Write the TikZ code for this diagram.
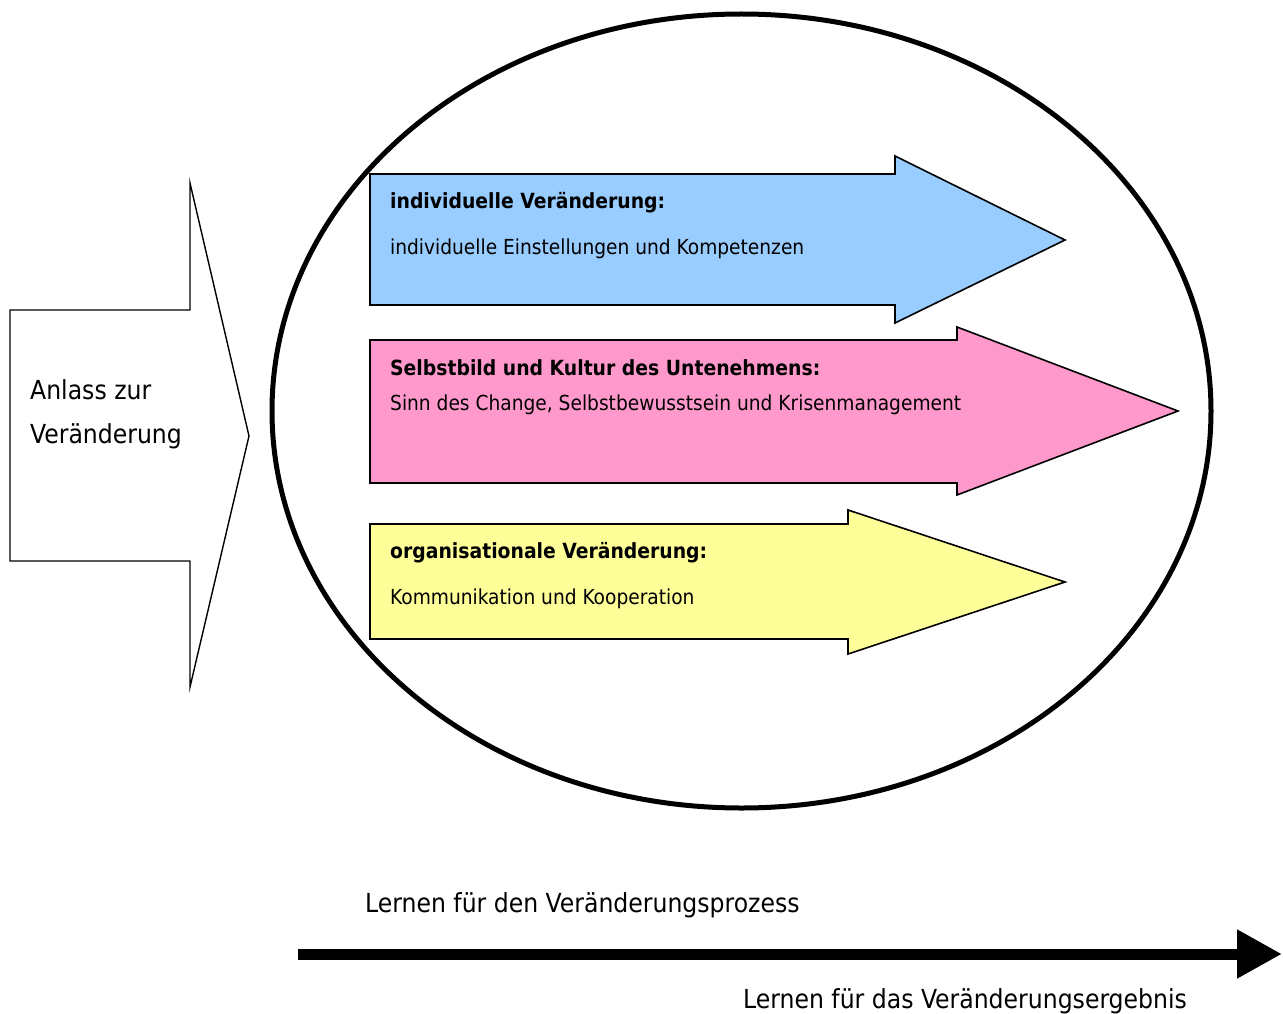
\documentclass[tikz,border=0pt]{standalone}
\usepackage{fontspec}
\setmainfont{DejaVu Sans Condensed}
\usetikzlibrary{arrows.meta}
\definecolor{blueA}{HTML}{99CCFF}
\definecolor{pinkA}{HTML}{FF99CC}
\definecolor{yellowA}{HTML}{FFFF99}
\begin{document}
\begin{tikzpicture}[x=1pt,y=-1pt,
  blockarrow/.style={draw=black,line width=1.6pt,line join=miter},
  headtxt/.style={anchor=base west,inner sep=0pt,font=\fontsize{20.9}{24}\selectfont\bfseries},
  bodytxt/.style={anchor=base west,inner sep=0pt,font=\fontsize{20.7}{24}\selectfont},
  bigtxt/.style={anchor=base west,inner sep=0pt,font=\fontsize{26.2}{30}\selectfont}]
\useasboundingbox[fill=white] (0,0) rectangle (1283,1014);
% ellipse
\draw[line width=5pt] (741.5,411) ellipse [x radius=469.5, y radius=397];
% left arrow
\draw[line width=1.4pt,fill=white,line join=miter]
  (10,310) -- (190,310) -- (190,183) -- (249,436) -- (190,687) -- (190,561) -- (10,561) -- cycle;
\node[bigtxt] (anlass1) at (30,399) {Anlass zur};
\node[bigtxt] (anlass2) at (30,443) {Veränderung};
% blue arrow
\draw[blockarrow,fill=blueA]
  (370,174) -- (895,174) -- (895,156) -- (1065,240) -- (895,323) -- (895,305) -- (370,305) -- cycle;
\node[headtxt] (b1) at (390,208) {individuelle Veränderung:};
\node[bodytxt] (b2) at (390,254) {individuelle Einstellungen und Kompetenzen};
% pink arrow
\draw[blockarrow,fill=pinkA]
  (370,340) -- (957,340) -- (957,327) -- (1178,411) -- (957,495) -- (957,483) -- (370,483) -- cycle;
\node[headtxt] (p1) at (390,375) {Selbstbild und Kultur des Untenehmens:};
\node[bodytxt] (p2) at (390,410) {Sinn des Change, Selbstbewusstsein und Krisenmanagement};
% yellow arrow
\draw[blockarrow,fill=yellowA]
  (370,524) -- (848,524) -- (848,510) -- (1065,582) -- (848,654) -- (848,639) -- (370,639) -- cycle;
\node[headtxt] (y1) at (390,558) {organisationale Veränderung:};
\node[bodytxt] (y2) at (390,604) {Kommunikation und Kooperation};
% bottom arrow
\coordinate (s) at (298,954);
\coordinate (e) at (1282,954);
\draw[line width=11pt,-{Triangle[length=45pt,width=46pt]}] (s) -- (e);
\node[bigtxt] (l1) at (365,912) {Lernen für den Veränderungsprozess};
\node[bigtxt] (l2) at (743,1008) {Lernen für das Veränderungsergebnis};
\end{tikzpicture}
\end{document}
